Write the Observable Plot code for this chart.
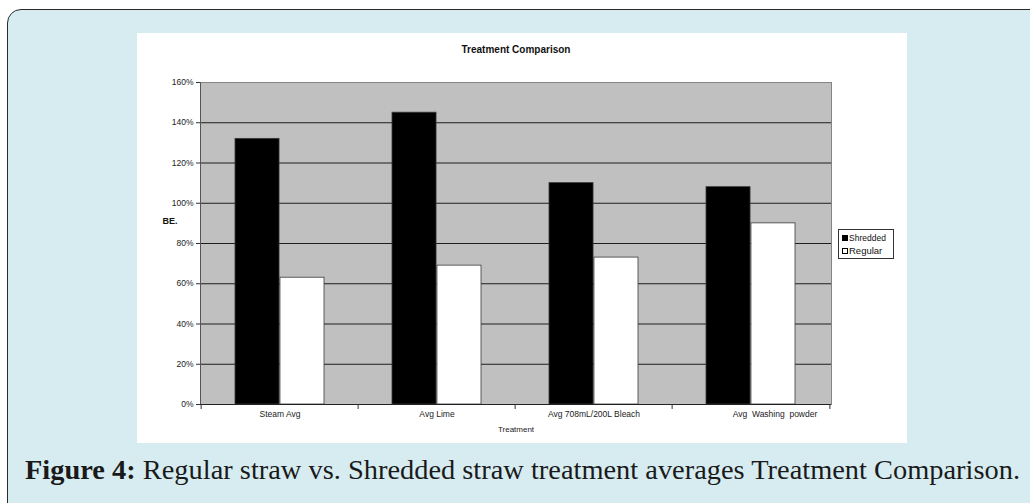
<!DOCTYPE html>
<html>
<head>
<meta charset="utf-8">
<script src="https://cdn.jsdelivr.net/npm/d3@7"></script>
<script src="https://cdn.jsdelivr.net/npm/@observablehq/plot@0.6"></script>
<style>
  body { margin: 0; width: 1030px; height: 503px; overflow: hidden; position: relative; background: #fff; font-family: "Liberation Sans", Arial, sans-serif; }
  #card { position: absolute; left: 7px; top: 9px; width: 1060px; height: 530px; background: #d7ecf1; border: 1.5px solid #2b2b2b; border-radius: 14px; box-sizing: border-box; }
  #panel { position: absolute; left: 137px; top: 33px; width: 770px; height: 410px; background: #fff; }
  #panel svg text { white-space: pre; }
  #legend { position: absolute; left: 701px; top: 196px; width: 56px; height: 30px; box-sizing: border-box; border: 1px solid #333; background: #fff; font-size: 8.5px; color: #111; }
  #legend .row { position: absolute; left: 3px; display: flex; align-items: center; white-space: nowrap; }
  #legend .sw { width: 6px; height: 6px; box-sizing: border-box; border: 1px solid #000; margin-right: 1px; }
  #caption { position: absolute; left: 25px; top: 455px; font-family: "Liberation Serif", "DejaVu Serif", serif; font-size: 27px; color: #1a1a1a; white-space: nowrap; transform-origin: 0 0; }
</style>
</head>
<body>
<div id="card"></div>
<div id="panel"></div>
<div id="caption"><b>Figure 4:</b> Regular straw vs. Shredded straw treatment averages Treatment Comparison.</div>
<script>
// Treatment averages (B.E. as a fraction), one entry per treatment
const treatments = ["Steam Avg", "Avg Lime", "Avg 708mL/200L Bleach", "Avg  Washing  powder"];
const shredded = [1.32, 1.45, 1.10, 1.08];
const regular = [0.63, 0.69, 0.73, 0.90];
const seriesNames = ["Shredded", "Regular"];
const seriesFills = ["#000000", "#ffffff"];
const yTicks = [0, 0.2, 0.4, 0.6, 0.8, 1.0, 1.2, 1.4, 1.6];

const shreddedRows = treatments.map((t, i) => ({treatment: t, value: shredded[i]}));
const regularRows = treatments.map((t, i) => ({treatment: t, value: regular[i]}));

const width = 770, height = 410;
const margin = {left: 63, right: 76, top: 49, bottom: 39};
const padInner = 0.43, padOuter = 0.215;
const plotW = width - margin.left - margin.right;
const step = plotW / (treatments.length - padInner + 2 * padOuter);
const half = step * (1 - padInner) / 2;

const fmt = d => Math.round(d * 100) + "%";
const font = "Liberation Sans, Arial, sans-serif";

const chart = Plot.plot({
  width, height,
  marginLeft: margin.left, marginRight: margin.right,
  marginTop: margin.top, marginBottom: margin.bottom,
  style: {fontFamily: font, color: "#222", background: "transparent"},
  x: {type: "band", domain: treatments, paddingInner: padInner, paddingOuter: padOuter, axis: null},
  y: {domain: [0, 1.6], axis: null},
  marks: [
    Plot.frame({fill: "#c0c0c0", stroke: "#858585"}),
    Plot.gridY(yTicks.slice(1, -1), {stroke: "#1e1e1e", strokeOpacity: 1}),
    Plot.barY(shreddedRows, {x: "treatment", y: "value", fill: seriesFills[0], stroke: "#3a3a3a", strokeWidth: 0.8, insetRight: half}),
    Plot.barY(regularRows, {x: "treatment", y: "value", fill: seriesFills[1], stroke: "#3a3a3a", strokeWidth: 0.8, insetLeft: half}),
    Plot.frame({anchor: "left", stroke: "#555"}),
    Plot.ruleY([0], {stroke: "#222"}),
    // y axis ticks and percent labels
    Plot.axisY({ticks: yTicks, tickFormat: fmt, tickSize: 4, tickPadding: 3, fontSize: 8.5, label: null, stroke: "#333"}),
    // category boundary ticks along the x axis
    Plot.axisX({tickSize: 5, tickFormat: () => "", label: null, dx: -step / 2, stroke: "#333"}),
    Plot.axisX({ticks: treatments.slice(-1), tickSize: 5, tickFormat: () => "", label: null, dx: step / 2, stroke: "#333"}),
    // category labels
    Plot.axisX({ticks: treatments.slice(0, 3), tickSize: 0, tickPadding: 6, fontSize: 8.5, label: null}),
    Plot.axisX({ticks: treatments.slice(-1), tickSize: 0, tickPadding: 6, fontSize: 8.5, label: null, dx: 24}),
    Plot.text(["Treatment"], {frameAnchor: "bottom", dy: 27, fontSize: 8, fill: "#222"}),
    Plot.text(["Treatment Comparison"], {frameAnchor: "top", dy: -37, fontSize: 10, fontWeight: "bold", fill: "#111"}),
    Plot.text(["BE."], {frameAnchor: "left", dx: -38, dy: -22, textAnchor: "start", fontSize: 9, fontWeight: "bold", fill: "#111"})
  ]
});
const panel = document.getElementById("panel");
panel.appendChild(chart);

// legend box
const legend = document.createElement("div");
legend.id = "legend";
seriesNames.forEach((name, i) => {
  const row = document.createElement("div");
  row.className = "row";
  row.style.top = (i === 0 ? 3 : 15) + "px";
  if (i === 1) row.style.fontSize = "9.5px";
  const sw = document.createElement("span");
  sw.className = "sw";
  sw.style.background = seriesFills[i];
  row.appendChild(sw);
  row.appendChild(document.createTextNode(name));
  legend.appendChild(row);
});
panel.appendChild(legend);

// stretch the caption line to run the full width of the card
const caption = document.getElementById("caption");
const w = caption.getBoundingClientRect().width;
caption.style.transform = `scaleX(${995 / w})`;
</script>
</body>
</html>
